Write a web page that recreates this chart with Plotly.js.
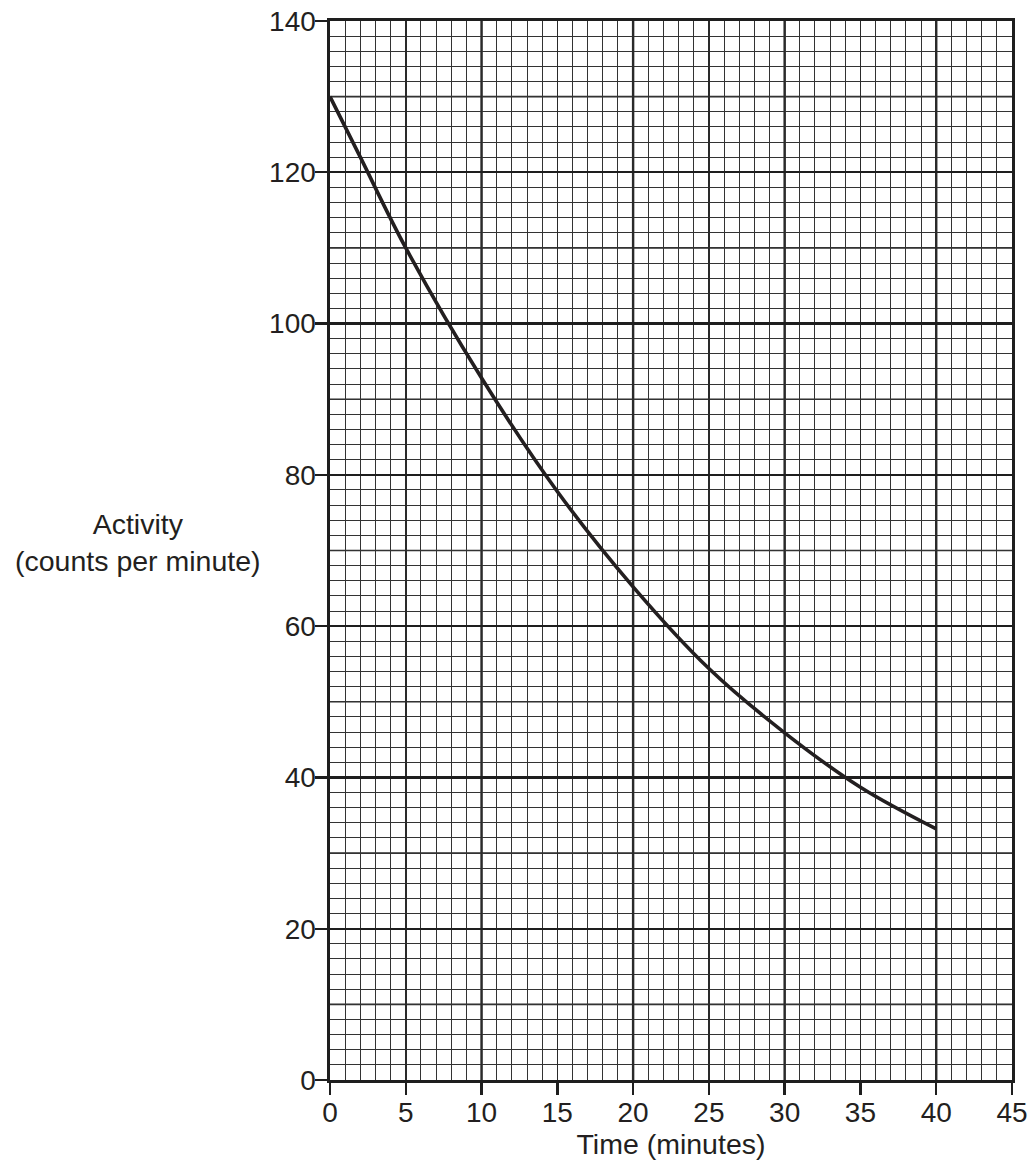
<!DOCTYPE html>
<html>
<head>
<meta charset="utf-8">
<script src="https://cdn.plot.ly/plotly-3.0.1.min.js"></script>
<style>
html,body{margin:0;padding:0;background:#fff;}
#chart{width:1032px;height:1167px;}
</style>
</head>
<body>
<div id="chart"></div>
<script>
// Data
const timeMin = [0, 2, 5, 10, 15, 20, 25, 30, 35, 40];
const activity = [130, 122, 110, 92.8, 77.8, 65.2, 54.4, 45.9, 38.7, 33.2];

const xTickVals = [0, 5, 10, 15, 20, 25, 30, 35, 40, 45];
const yTickVals = [0, 20, 40, 60, 80, 100, 120, 140];
const xMajorLines = [10, 20, 30, 40];
const yMidLines = [10, 30, 50, 70, 90, 110, 130];

const xTitle = 'Time (minutes)';
const yTitleLines = ['Activity', '(counts per minute)'];

const gridDark = '#2a2a2a';
const shapes = [];
xMajorLines.forEach(v => shapes.push({
  type: 'line', xref: 'x', yref: 'paper', x0: v, x1: v, y0: 0, y1: 1,
  line: {color: '#1e1e1e', width: 2.4}, layer: 'below'
}));
yMidLines.forEach(v => shapes.push({
  type: 'line', xref: 'paper', yref: 'y', x0: 0, x1: 1, y0: v, y1: v,
  line: {color: gridDark, width: 1.6}, layer: 'below'
}));

const trace = {
  x: timeMin, y: activity, type: 'scatter', mode: 'lines',
  line: {color: '#231f20', width: 3.6, shape: 'spline', smoothing: 1},
  hoverinfo: 'skip'
};

const font = {family: '"Liberation Sans", Arial, Helvetica, sans-serif', size: 28, color: '#231f20'};
const titleFont = {family: font.family, size: 28.5, color: font.color};

const layout = {
  width: 1032, height: 1167,
  margin: {l: 330, r: 20, t: 21, b: 87, pad: 0},
  paper_bgcolor: '#fff', plot_bgcolor: '#fff',
  showlegend: false,
  font: font,
  xaxis: {
    range: [0, 45], tickvals: xTickVals, ticktext: xTickVals.map(String),
    ticks: 'outside', ticklen: 12, tickwidth: 2.4, tickcolor: '#1e1e1e',
    showline: true, linecolor: '#1e1e1e', linewidth: 2.6, mirror: true,
    showgrid: true, gridcolor: gridDark, gridwidth: 1.6,
    minor: {dtick: 1, showgrid: true, gridcolor: '#333', gridwidth: 1, ticks: ''},
    zeroline: false, tickfont: font, ticklabelstandoff: -6,
    title: {text: xTitle, font: titleFont, standoff: 0},
    fixedrange: true
  },
  yaxis: {
    range: [0, 140], tickvals: yTickVals, ticktext: yTickVals.map(String),
    ticks: 'outside', ticklen: 12, tickwidth: 2.4, tickcolor: '#1e1e1e',
    showline: true, linecolor: '#1e1e1e', linewidth: 2.6, mirror: true,
    showgrid: true, gridcolor: '#1e1e1e', gridwidth: 2.4,
    minor: {dtick: 2, showgrid: true, gridcolor: '#333', gridwidth: 1, ticks: ''},
    zeroline: false, tickfont: font, ticklabelstandoff: -6,
    fixedrange: true
  },
  shapes: shapes,
  annotations: [{
    xref: 'paper', yref: 'y', x: -0.2815, y: 71, xanchor: 'center', yanchor: 'middle',
    text: yTitleLines.join('<br>'), showarrow: false, align: 'center',
    font: titleFont
  }]
};

Plotly.newPlot('chart', [trace], layout, {displayModeBar: false, staticPlot: true});
</script>
</body>
</html>
